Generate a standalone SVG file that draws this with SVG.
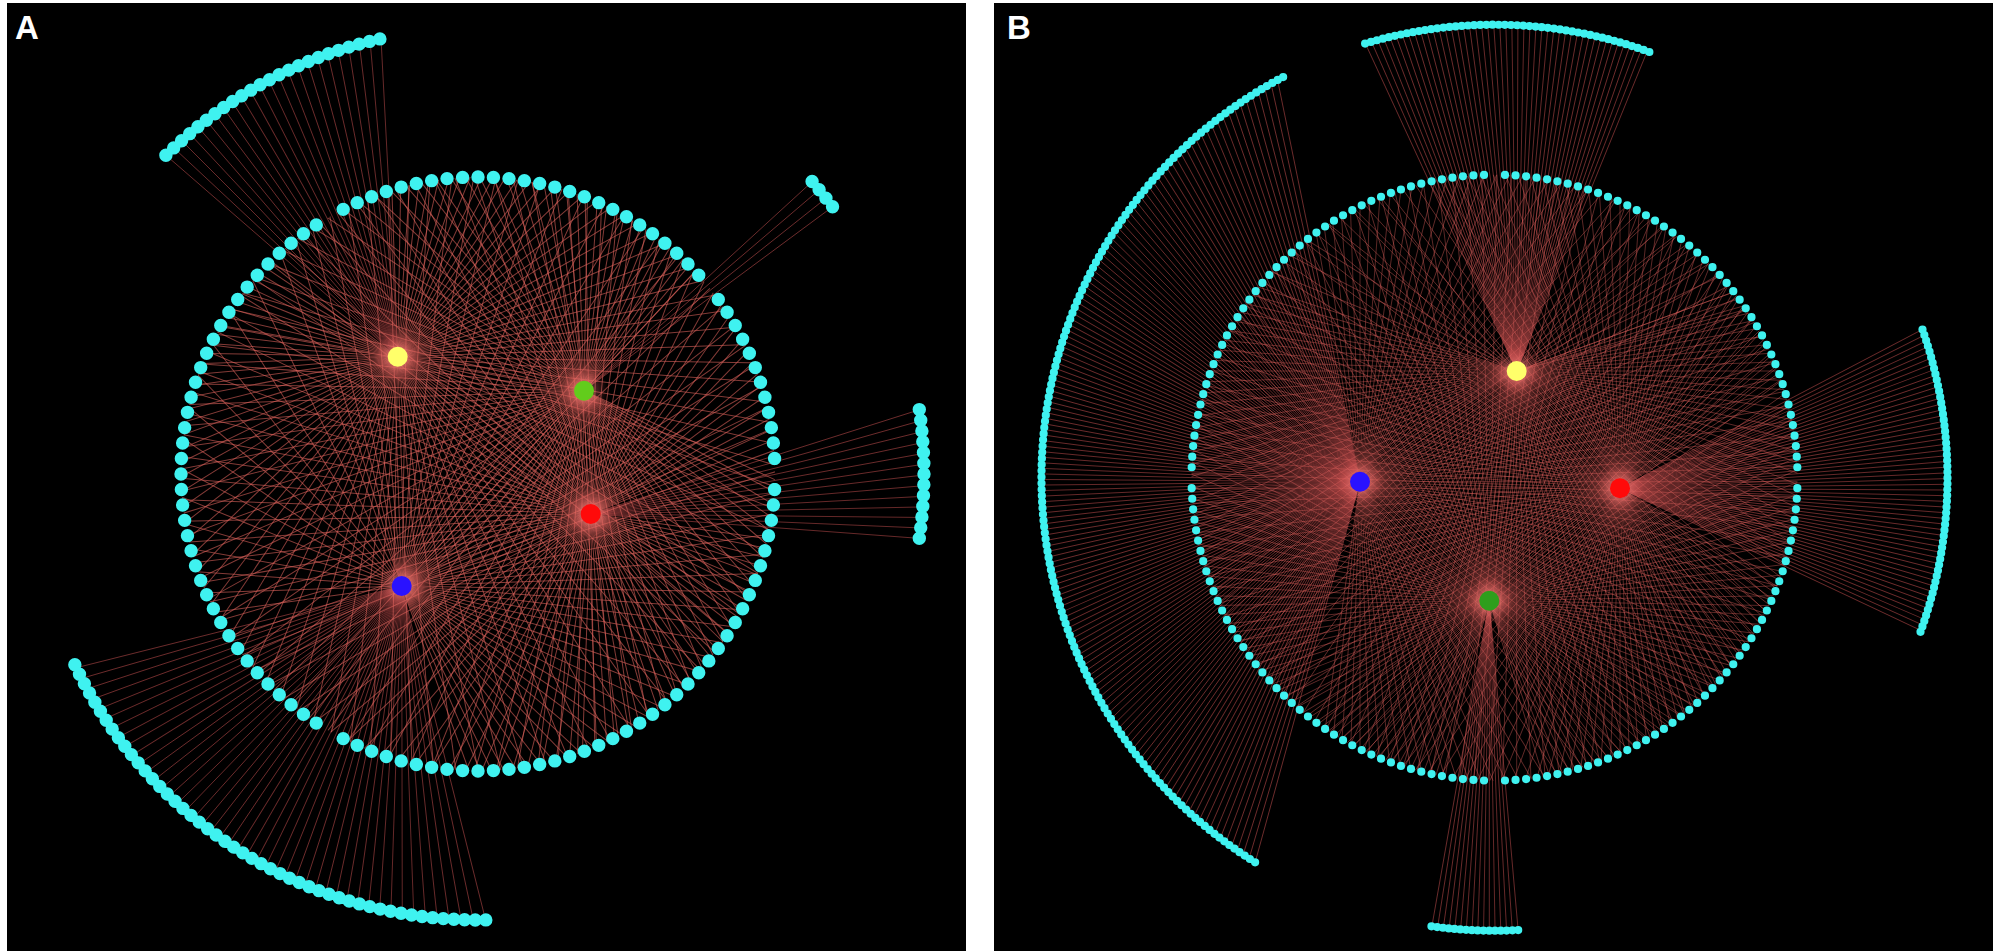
<svg xmlns="http://www.w3.org/2000/svg" width="2000" height="951" viewBox="0 0 2000 951">
<style>
.lbl{font-family:"Liberation Sans",Arial,sans-serif;font-weight:bold;font-size:33px;fill:#fff}
.dA{fill:none;stroke:#3ff2f0;stroke-width:13.4;stroke-linecap:round;stroke-dasharray:0 1}
.dB{fill:none;stroke:#3ff2f0;stroke-width:8.2;stroke-linecap:round;stroke-dasharray:0 1}
.meshA{fill:none;stroke:#dc625c;stroke-opacity:.6;stroke-width:1}
.meshB{fill:none;stroke:#d85e5a;stroke-opacity:.45;stroke-width:.9}
.fan{fill:none;stroke:#b84a4a;stroke-opacity:.6;stroke-width:.9}
.glow{fill:url(#glow)}
</style>
<defs>
<path id="sp" d="M0 0H1000"/>
<g id="k1"><use href="#sp"/><use href="#sp" transform="rotate(1)"/><use href="#sp" transform="rotate(2)"/><use href="#sp" transform="rotate(3)"/><use href="#sp" transform="rotate(4)"/><use href="#sp" transform="rotate(5)"/><use href="#sp" transform="rotate(6)"/><use href="#sp" transform="rotate(7)"/><use href="#sp" transform="rotate(8)"/><use href="#sp" transform="rotate(9)"/></g>
<g id="k2"><use href="#sp"/><use href="#sp" transform="rotate(2)"/><use href="#sp" transform="rotate(4)"/><use href="#sp" transform="rotate(6)"/><use href="#sp" transform="rotate(8)"/><use href="#sp" transform="rotate(10)"/><use href="#sp" transform="rotate(12)"/><use href="#sp" transform="rotate(14)"/><use href="#sp" transform="rotate(16)"/><use href="#sp" transform="rotate(18)"/></g>
<g id="k3"><use href="#sp"/><use href="#sp" transform="rotate(3)"/><use href="#sp" transform="rotate(6)"/><use href="#sp" transform="rotate(9)"/><use href="#sp" transform="rotate(12)"/><use href="#sp" transform="rotate(15)"/><use href="#sp" transform="rotate(18)"/><use href="#sp" transform="rotate(21)"/><use href="#sp" transform="rotate(24)"/><use href="#sp" transform="rotate(27)"/></g>
<g id="k5"><use href="#sp"/><use href="#sp" transform="rotate(5)"/><use href="#sp" transform="rotate(10)"/><use href="#sp" transform="rotate(15)"/><use href="#sp" transform="rotate(20)"/><use href="#sp" transform="rotate(25)"/><use href="#sp" transform="rotate(30)"/><use href="#sp" transform="rotate(35)"/><use href="#sp" transform="rotate(40)"/><use href="#sp" transform="rotate(45)"/></g>
<clipPath id="cAi"><circle cx="478" cy="474" r="297"/></clipPath>
<clipPath id="cAo"><circle cx="478" cy="474" r="446"/></clipPath>
<clipPath id="cBi"><circle cx="1494.5" cy="477.7" r="303"/></clipPath>
<clipPath id="cBo"><circle cx="1494.5" cy="477.7" r="453"/></clipPath>
<radialGradient id="glow"><stop offset="0" stop-color="#ffa098" stop-opacity=".55"/><stop offset="1" stop-color="#ff6060" stop-opacity="0"/></radialGradient>
<mask id="mA" maskUnits="userSpaceOnUse" x="0" y="0" width="1000" height="951"><rect width="1000" height="951" fill="#fff"/><circle cx="775" cy="474" r="9" fill="#000"/><circle cx="329.5" cy="731.2" r="9" fill="#000"/><circle cx="329.5" cy="216.8" r="9" fill="#000"/><circle cx="708.8" cy="287.1" r="9" fill="#000"/></mask>
<mask id="mB" maskUnits="userSpaceOnUse" x="990" y="0" width="1010" height="951"><rect x="990" width="1010" height="951" fill="#fff"/><circle cx="1797.5" cy="477.7" r="6" fill="#000"/><circle cx="1494.5" cy="780.7" r="6" fill="#000"/><circle cx="1191.5" cy="477.7" r="6" fill="#000"/><circle cx="1494.5" cy="174.7" r="6" fill="#000"/></mask>
</defs>
<rect width="2000" height="951" fill="#fff"/>
<rect x="7" y="3" width="959" height="948" fill="#000"/>
<rect x="994" y="3" width="999" height="948" fill="#000"/>
<text class="lbl" x="15" y="39">A</text>
<text class="lbl" x="1007" y="39">B</text>

<g id="connectors">
 <g id="A-fans" class="fan" clip-path="url(#cAo)">
  <g transform="translate(397.7 356.7) rotate(-139)"><use href="#k2"/><use href="#k2" transform="rotate(20)"/><use href="#sp" transform="rotate(40)"/><use href="#sp" transform="rotate(42)"/><use href="#sp" transform="rotate(44)"/><use href="#sp" transform="rotate(46)"/></g>
  <g transform="translate(584 390.7) rotate(-42.5)"><use href="#sp"/><use href="#sp" transform="rotate(2)"/><use href="#sp" transform="rotate(4)"/><use href="#sp" transform="rotate(6)"/></g>
  <g transform="translate(590.7 514) rotate(-17.6)"><use href="#sp"/><use href="#sp" transform="rotate(1.82)"/><use href="#sp" transform="rotate(3.64)"/><use href="#sp" transform="rotate(5.46)"/><use href="#sp" transform="rotate(7.28)"/><use href="#sp" transform="rotate(9.1)"/><use href="#sp" transform="rotate(10.92)"/><use href="#sp" transform="rotate(12.74)"/><use href="#sp" transform="rotate(14.56)"/><use href="#sp" transform="rotate(16.38)"/><use href="#sp" transform="rotate(18.2)"/><use href="#sp" transform="rotate(20.02)"/><use href="#sp" transform="rotate(21.84)"/></g>
  <g transform="translate(401.7 586) rotate(75.9)"><use href="#k2"/><use href="#k2" transform="rotate(20)"/><use href="#k2" transform="rotate(40)"/><use href="#k2" transform="rotate(60)"/><use href="#sp" transform="rotate(80)"/><use href="#sp" transform="rotate(82)"/><use href="#sp" transform="rotate(84)"/><use href="#sp" transform="rotate(86)"/><use href="#sp" transform="rotate(88)"/><use href="#sp" transform="rotate(90)"/></g>
 </g>
 <g id="A-mesh" class="meshA" clip-path="url(#cAi)">
  <g transform="translate(397.7 356.7)"><use href="#k3" transform="rotate(-92)"/><use href="#k3" transform="rotate(-62)"/><use href="#k3" transform="rotate(-32)"/><use href="#k3" transform="rotate(-2)"/><use href="#k3" transform="rotate(28)"/><use href="#k3" transform="rotate(58)"/><use href="#k3" transform="rotate(88)"/><use href="#k3" transform="rotate(118)"/><use href="#k3" transform="rotate(148)"/><use href="#k3" transform="rotate(178)"/><use href="#sp" transform="rotate(208)"/><use href="#sp" transform="rotate(211)"/><use href="#sp" transform="rotate(214)"/><use href="#sp" transform="rotate(217)"/></g>
  <g transform="translate(584 390.7)"><use href="#k3" transform="rotate(25)"/><use href="#k3" transform="rotate(55)"/><use href="#k3" transform="rotate(85)"/><use href="#k3" transform="rotate(115)"/><use href="#k3" transform="rotate(145)"/><use href="#k3" transform="rotate(175)"/><use href="#k3" transform="rotate(205)"/><use href="#k3" transform="rotate(235)"/><use href="#k3" transform="rotate(265)"/><use href="#sp" transform="rotate(295)"/><use href="#sp" transform="rotate(298)"/><use href="#sp" transform="rotate(301)"/><use href="#sp" transform="rotate(304)"/><use href="#sp" transform="rotate(307)"/><use href="#sp" transform="rotate(310)"/><use href="#sp" transform="rotate(313)"/></g>
  <g transform="translate(590.7 514)"><use href="#k3" transform="rotate(8)"/><use href="#k3" transform="rotate(38)"/><use href="#k3" transform="rotate(68)"/><use href="#k3" transform="rotate(98)"/><use href="#k3" transform="rotate(128)"/><use href="#k3" transform="rotate(158)"/><use href="#k3" transform="rotate(188)"/><use href="#k3" transform="rotate(218)"/><use href="#k3" transform="rotate(248)"/><use href="#k3" transform="rotate(278)"/><use href="#sp" transform="rotate(308)"/><use href="#sp" transform="rotate(311)"/><use href="#sp" transform="rotate(314)"/><use href="#sp" transform="rotate(317)"/><use href="#sp" transform="rotate(320)"/><use href="#sp" transform="rotate(323)"/><use href="#sp" transform="rotate(326)"/><use href="#sp" transform="rotate(329)"/><use href="#sp" transform="rotate(332)"/><use href="#sp" transform="rotate(335)"/><use href="#sp" transform="rotate(338)"/></g>
  <g transform="translate(401.7 586)"><use href="#k3" transform="rotate(-110)"/><use href="#k3" transform="rotate(-80)"/><use href="#k3" transform="rotate(-50)"/><use href="#k3" transform="rotate(-20)"/><use href="#k3" transform="rotate(10)"/><use href="#k3" transform="rotate(40)"/><use href="#sp" transform="rotate(70)"/><use href="#sp" transform="rotate(172)"/><use href="#sp" transform="rotate(178)"/><use href="#sp" transform="rotate(184)"/><use href="#sp" transform="rotate(190)"/><use href="#sp" transform="rotate(196)"/><use href="#sp" transform="rotate(202)"/><use href="#sp" transform="rotate(208)"/><use href="#sp" transform="rotate(214)"/><use href="#sp" transform="rotate(220)"/><use href="#sp" transform="rotate(226)"/><use href="#sp" transform="rotate(232)"/><use href="#sp" transform="rotate(238)"/><use href="#sp" transform="rotate(244)"/></g>
 </g>
 <g id="B-fans" class="fan" clip-path="url(#cBo)">
  <g transform="translate(1516.7 371) rotate(-114.8)"><use href="#k1"/><use href="#k1" transform="rotate(10)"/><use href="#k1" transform="rotate(20)"/><use href="#k1" transform="rotate(30)"/><use href="#sp" transform="rotate(40)"/><use href="#sp" transform="rotate(41)"/><use href="#sp" transform="rotate(42)"/><use href="#sp" transform="rotate(43)"/><use href="#sp" transform="rotate(44)"/><use href="#sp" transform="rotate(45)"/><use href="#sp" transform="rotate(46)"/><use href="#sp" transform="rotate(47)"/></g>
  <g transform="translate(1360 481.7) rotate(105.4)"><use href="#k1"/><use href="#k1" transform="rotate(10)"/><use href="#k1" transform="rotate(20)"/><use href="#k1" transform="rotate(30)"/><use href="#k1" transform="rotate(40)"/><use href="#k1" transform="rotate(50)"/><use href="#k1" transform="rotate(60)"/><use href="#k1" transform="rotate(70)"/><use href="#k1" transform="rotate(80)"/><use href="#k1" transform="rotate(90)"/><use href="#k1" transform="rotate(100)"/><use href="#k1" transform="rotate(110)"/><use href="#k1" transform="rotate(120)"/><use href="#k1" transform="rotate(130)"/><use href="#k1" transform="rotate(140)"/><use href="#sp" transform="rotate(150)"/><use href="#sp" transform="rotate(151)"/><use href="#sp" transform="rotate(152)"/><use href="#sp" transform="rotate(153)"/></g>
  <g transform="translate(1620 488.3) rotate(-27.7)"><use href="#k1"/><use href="#k1" transform="rotate(10)"/><use href="#k1" transform="rotate(20)"/><use href="#k1" transform="rotate(30)"/><use href="#k1" transform="rotate(40)"/><use href="#sp" transform="rotate(50)"/><use href="#sp" transform="rotate(51)"/><use href="#sp" transform="rotate(52)"/><use href="#sp" transform="rotate(53)"/></g>
  <g transform="translate(1489.3 600.7) rotate(85)"><use href="#k1"/><use href="#sp" transform="rotate(10)"/><use href="#sp" transform="rotate(11)"/><use href="#sp" transform="rotate(12)"/><use href="#sp" transform="rotate(13)"/><use href="#sp" transform="rotate(14)"/><use href="#sp" transform="rotate(15)"/></g>
 </g>
 <g id="B-mesh" class="meshB" clip-path="url(#cBi)">
  <g transform="translate(1516.7 371)"><use href="#k5" transform="rotate(-60)"/><use href="#k2" transform="rotate(-20)"/><use href="#k2"/><use href="#k2" transform="rotate(20)"/><use href="#k2" transform="rotate(40)"/><use href="#k2" transform="rotate(60)"/><use href="#k2" transform="rotate(80)"/><use href="#k2" transform="rotate(100)"/><use href="#k2" transform="rotate(120)"/><use href="#k2" transform="rotate(140)"/><use href="#k2" transform="rotate(160)"/><use href="#k2" transform="rotate(180)"/><use href="#sp" transform="rotate(202)"/><use href="#sp" transform="rotate(207)"/><use href="#sp" transform="rotate(212)"/><use href="#sp" transform="rotate(218)"/><use href="#sp" transform="rotate(225)"/><use href="#sp" transform="rotate(232)"/></g>
  <g transform="translate(1360 481.7)"><use href="#k2" transform="rotate(-100)"/><use href="#k2" transform="rotate(-80)"/><use href="#k2" transform="rotate(-60)"/><use href="#k2" transform="rotate(-40)"/><use href="#k2" transform="rotate(-20)"/><use href="#k2"/><use href="#k2" transform="rotate(20)"/><use href="#k2" transform="rotate(40)"/><use href="#k2" transform="rotate(60)"/><use href="#k2" transform="rotate(80)"/></g>
  <g transform="translate(1620 488.3)"><use href="#k2" transform="rotate(30)"/><use href="#k2" transform="rotate(50)"/><use href="#k2" transform="rotate(70)"/><use href="#k2" transform="rotate(90)"/><use href="#k2" transform="rotate(110)"/><use href="#k2" transform="rotate(130)"/><use href="#k2" transform="rotate(150)"/><use href="#k2" transform="rotate(170)"/><use href="#k2" transform="rotate(190)"/><use href="#k2" transform="rotate(210)"/><use href="#k2" transform="rotate(230)"/><use href="#k2" transform="rotate(250)"/><use href="#k2" transform="rotate(270)"/><use href="#k2" transform="rotate(290)"/><use href="#k2" transform="rotate(310)"/></g>
  <g transform="translate(1489.3 600.7)"><use href="#k2" transform="rotate(105)"/><use href="#k2" transform="rotate(125)"/><use href="#k2" transform="rotate(145)"/><use href="#k2" transform="rotate(165)"/><use href="#k2" transform="rotate(185)"/><use href="#k2" transform="rotate(205)"/><use href="#k2" transform="rotate(225)"/><use href="#k2" transform="rotate(245)"/><use href="#k2" transform="rotate(265)"/><use href="#k2" transform="rotate(285)"/><use href="#k2" transform="rotate(305)"/><use href="#k2" transform="rotate(325)"/><use href="#k2" transform="rotate(345)"/><use href="#k2" transform="rotate(365)"/><use href="#k2" transform="rotate(385)"/><use href="#k2" transform="rotate(405)"/><use href="#sp" transform="rotate(425)"/><use href="#sp" transform="rotate(427)"/><use href="#sp" transform="rotate(429)"/><use href="#sp" transform="rotate(431)"/><use href="#sp" transform="rotate(433)"/></g>
 </g>
</g>

<g id="hub-glows">
 <circle class="glow" cx="397.7" cy="356.7" r="24"/><circle class="glow" cx="584" cy="390.7" r="24"/><circle class="glow" cx="590.7" cy="514" r="24"/><circle class="glow" cx="401.7" cy="586" r="24"/>
 <circle class="glow" cx="1516.7" cy="371" r="24"/><circle class="glow" cx="1360" cy="481.7" r="24"/><circle class="glow" cx="1620" cy="488.3" r="24"/><circle class="glow" cx="1489.3" cy="600.7" r="24"/>
</g>

<g id="A-inner-ring"><circle class="dA" cx="478" cy="474" r="297" pathLength="120" mask="url(#mA)"/></g>
<g id="A-arc-topleft"><path class="dA" d="M165.9 155.3A446 446 0 0 1 380 38.9" pathLength="23.01"/></g>
<g id="A-arc-topright"><path class="dA" d="M812.1 181.5A444 444 0 0 1 832.6 206.8" pathLength="3.01"/></g>
<g id="A-arc-right"><path class="dA" d="M919.3 409.6A446 446 0 0 1 919.3 538.4" pathLength="12.01"/></g>
<g id="A-arc-bottomleft"><path class="dA" d="M485.8 919.9A446 446 0 0 1 74.8 664.6" pathLength="48.01"/></g>

<g id="B-inner-ring"><circle class="dB" cx="1494.5" cy="477.7" r="303" pathLength="180" mask="url(#mB)"/></g>
<g id="B-arc-top"><path class="dB" d="M1365.1 43.6A453 453 0 0 1 1649.4 52" pathLength="47.01"/></g>
<g id="B-arc-right"><path class="dB" d="M1922.5 329.5A453 453 0 0 1 1920.5 631.9" pathLength="53.01"/></g>
<g id="B-arc-bottom"><path class="dB" d="M1518.2 930.1A453 453 0 0 1 1431.4 926.3" pathLength="15.01"/></g>
<g id="B-arc-left"><path class="dB" d="M1255.1 862.3A453 453 0 0 1 1283.2 77" pathLength="153.01"/></g>

<g id="A-yellow"><circle cx="397.7" cy="356.7" r="10" fill="#ffff6a"/></g>
<g id="A-green"><circle cx="584" cy="390.7" r="10" fill="#62cc1c"/></g>
<g id="A-red"><circle cx="590.7" cy="514" r="10" fill="#ff0a0a"/></g>
<g id="A-blue"><circle cx="401.7" cy="586" r="10" fill="#2a12ff"/></g>
<g id="B-yellow"><circle cx="1516.7" cy="371" r="10" fill="#ffff6a"/></g>
<g id="B-blue"><circle cx="1360" cy="481.7" r="10" fill="#2a12ff"/></g>
<g id="B-red"><circle cx="1620" cy="488.3" r="10" fill="#ff0a0a"/></g>
<g id="B-green"><circle cx="1489.3" cy="600.7" r="10" fill="#2e9e1c"/></g>
</svg>
